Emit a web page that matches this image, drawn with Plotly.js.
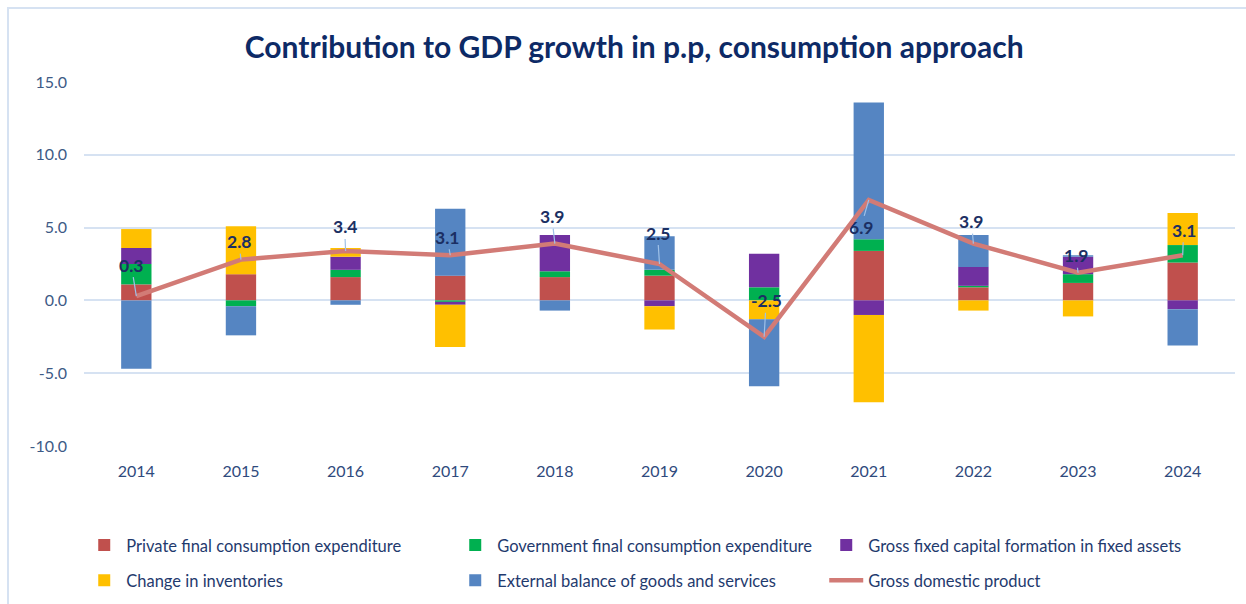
<!DOCTYPE html>
<html>
<head>
<meta charset="utf-8">
<script src="https://cdn.plot.ly/plotly-3.0.1.min.js"></script>
<style>
  html, body { margin: 0; padding: 0; background: #ffffff; }
  #wrap { position: relative; width: 1246px; height: 604px; overflow: hidden; }
  #frame { position: absolute; left: 7px; top: 7px; width: 1400px; height: 800px; border: 2px solid #d6e2f2; box-sizing: border-box; }
  #chart { position: absolute; left: 0; top: 0; width: 1246px; height: 604px; }
</style>
</head>
<body>
<div id="wrap">
  <div id="frame"></div>
  <div id="chart"></div>
</div>
<script>
const years = ['2014','2015','2016','2017','2018','2019','2020','2021','2022','2023','2024'];
const privateCons = [1.1, 1.8, 1.6, 1.7, 1.6, 1.7, 0.0, 3.4, 0.9, 1.2, 2.6];
const governmentCons = [1.4, -0.4, 0.5, -0.1, 0.4, 0.4, 0.9, 0.8, 0.1, 0.6, 1.2];
const grossFixedCapital = [1.1, 0.0, 0.9, -0.2, 2.5, -0.4, 2.3, -1.0, 1.3, 1.2, -0.6];
const inventories = [1.3, 3.3, 0.6, -2.9, 0.0, -1.6, -1.3, -6.0, -0.7, -1.1, 2.2];
const externalBalance = [-4.7, -2.0, -0.3, 4.6, -0.7, 2.3, -4.6, 9.4, 2.2, 0.1, -2.5];
const gdp = [0.3, 2.8, 3.4, 3.1, 3.9, 2.5, -2.5, 6.9, 3.9, 1.9, 3.1];
const seriesNames = ['Private final consumption expenditure', 'Government final consumption expenditure',
  'Gross fixed capital formation in fixed assets', 'Change in inventories',
  'External balance of goods and services', 'Gross domestic product'];
const yTicks = [-10, -5, 0, 5, 10, 15];
const yTickLabels = ['-10.0', '-5.0', '0.0', '5.0', '10.0', '15.0'];
// label offsets (pixels) for GDP data labels
const labelDx = [-5, -2, -1, -3, -3, -2, 2, -8, -2, -2, 1];
const labelDy = [-31, -18, -24, -18, -27, -31, -36, 28, -22, -17, -25];

const colors = ['#c0504d', '#00b050', '#7030a0', '#ffc000', '#5585c2', '#d27b76'];
const barVals = [privateCons, governmentCons, grossFixedCapital, inventories, externalBalance];

const traces = barVals.map((v, i) => ({
  type: 'bar', x: years, y: v, name: seriesNames[i],
  marker: { color: colors[i] }, hoverinfo: 'x+y+name',
  legend: i < 3 ? 'legend' : 'legend2'
}));
traces.push({
  type: 'scatter', mode: 'lines', x: years, y: gdp, name: seriesNames[5],
  line: { color: colors[5], width: 4.5 }, legend: 'legend2'
});

const annotations = years.map((yr, i) => ({
  x: i, y: gdp[i], xref: 'x', yref: 'y',
  text: gdp[i].toFixed(1), showarrow: true, arrowhead: 0, arrowwidth: 1.2,
  arrowcolor: '#9fc1e8', ax: labelDx[i], ay: labelDy[i], standoff: 0,
  font: { family: 'Lato, sans-serif', size: 17.5, color: '#1b2f63', weight: 'bold' }
}));

const legendBase = {
  orientation: 'h', xref: 'container', yref: 'container', x: 0.066, xanchor: 'left',
  yanchor: 'top', entrywidth: 322, entrywidthmode: 'pixels', itemwidth: 34,
  traceorder: 'normal', bgcolor: 'rgba(0,0,0,0)',
  font: { family: 'Lato, sans-serif', size: 16.5, color: '#1f3a6e' }
};

const layout = {
  width: 1246, height: 604,
  paper_bgcolor: 'rgba(0,0,0,0)', plot_bgcolor: 'rgba(0,0,0,0)',
  margin: { l: 84, r: 11, t: 82, b: 158 },
  barmode: 'relative', bargap: 0.71,
  font: { family: 'Lato, sans-serif', color: '#2f4a7d' },
  title: {
    text: '<b>Contribution to GDP growth in p.p, consumption approach</b>',
    xref: 'container', x: 0.509, xanchor: 'center', yref: 'container', y: 0.922, yanchor: 'middle',
    font: { family: 'Lato, sans-serif', size: 30, color: '#0d2a66' }
  },
  xaxis: {
    type: 'category', range: [-0.5, 10.5], showgrid: false, zeroline: false, showline: false, ticks: '',
    tickfont: { size: 16, color: '#2f4a7d' }, ticklabelstandoff: 14
  },
  yaxis: {
    range: [-10, 15], tickvals: yTicks, ticktext: yTickLabels, showgrid: true,
    gridcolor: '#d6e2f2', gridwidth: 2, zeroline: true, zerolinecolor: '#d6e2f2', zerolinewidth: 2,
    showline: false, ticks: '', tickfont: { size: 16, color: '#3d5a86' }, ticklabelstandoff: 16
  },
  legend: Object.assign({}, legendBase, { y: 0.126 }),
  legend2: Object.assign({}, legendBase, { y: 0.068 }),
  annotations: annotations,
  showlegend: true
};

Plotly.newPlot('chart', traces, layout, { displayModeBar: false, staticPlot: true });
</script>
</body>
</html>
